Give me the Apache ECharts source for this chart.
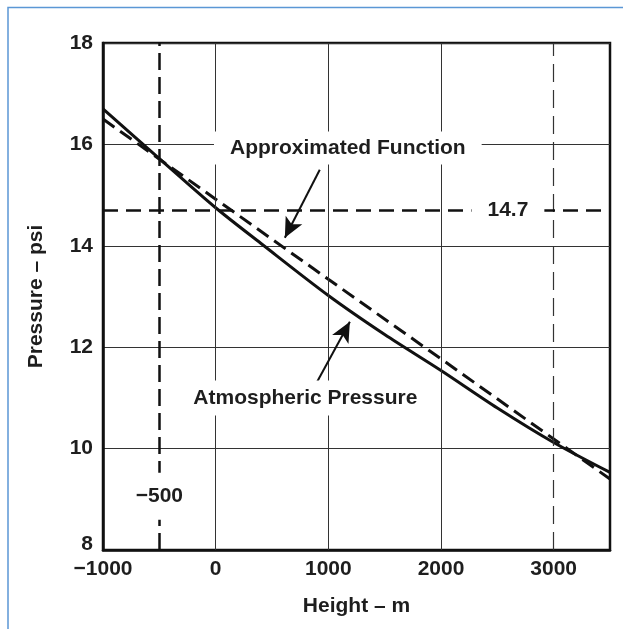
<!DOCTYPE html>
<html>
<head>
<meta charset="utf-8">
<script src="https://cdn.jsdelivr.net/npm/echarts@6/dist/echarts.min.js"></script>
<style>
html,body{margin:0;padding:0;background:#fff;}
#chart{width:623px;height:629px;}
</style>
</head>
<body>
<div id="chart"></div>
<script>
// ---- data ----
const xTicks = [-1000, 0, 1000, 2000, 3000];
const yTicks = [8, 10, 12, 14, 16, 18];
const atmHeights = [-1000, -500, 0, 400, 1000, 1500, 2000, 2500, 3000, 3500];
const atmPressure = [16.70, 15.72, 14.75, 14.05, 13.02, 12.25, 11.54, 10.80, 10.12, 9.53];
const apxHeights = [-1000, 0, 1000, 2000, 3000, 3500];
const apxPressure = [16.50, 14.92, 13.34, 11.77, 10.19, 9.40];
const refHeight = -500;
const refHeight2 = 3000;
const refPressure = 14.7;
const gridHeights = [0, 1000, 2000];
const labelNames = ['Approximated Function', 'Atmospheric Pressure', '14.7', '\u2212500'];
const labelPos = [[1173, 15.93], [796, 11.0], [2594, 14.7], [-500, 9.06]];
const arrowApx = [[924, 15.50], [614, 14.16]];
const arrowAtm = [[862, 11.16], [1191, 12.50]];

const FONT = '"Liberation Sans", Arial, Helvetica, sans-serif';
const INK = '#1e1e1e';
const FS = 21;

function fmt(v) { return v < 0 ? '\u2212' + Math.abs(v) : String(v); }

const chart = echarts.init(document.getElementById('chart'), null, {renderer: 'canvas'});

const labelPads = [[6, 16], [7, 9], [3, 16], [13, 3]];

const option = {
  animation: false,
  backgroundColor: '#fff',
  graphic: [{
    type: 'polyline',
    shape: {points: [[8, 629], [8, 7.5], [623, 7.5]]},
    style: {stroke: '#5b97d5', lineWidth: 1.5, fill: null},
    z: 100
  }],
  grid: {
    left: 103, top: 43, width: 507, height: 507,
    show: true, borderColor: '#111', borderWidth: 2.5, backgroundColor: 'transparent'
  },
  xAxis: {
    type: 'value', min: -1000, max: 3500, interval: 1000,
    axisLine: {show: true, onZero: false, lineStyle: {color: '#111', width: 2.5}},
    axisTick: {show: false},
    splitLine: {show: false},
    axisLabel: {
      margin: 9, color: INK, fontFamily: FONT, fontWeight: 'bold', fontSize: FS,
      showMaxLabel: false,
      formatter: v => xTicks.includes(v) ? fmt(v) : ''
    },
    name: 'Height \u2013 m', nameLocation: 'middle', nameGap: 46,
    nameTextStyle: {color: INK, fontFamily: FONT, fontWeight: 'bold', fontSize: FS}
  },
  yAxis: {
    type: 'value', min: 8, max: 18, interval: 2,
    axisLine: {show: true, onZero: false, lineStyle: {color: '#111', width: 2.5}},
    axisTick: {show: false},
    splitLine: {show: true, lineStyle: {color: '#333', width: 1}},
    axisLabel: {
      margin: 10, color: INK, fontFamily: FONT, fontWeight: 'bold', fontSize: FS,
      formatter: v => yTicks.includes(v) ? (v === yTicks[0] ? '{low|' + fmt(v) + '}' : fmt(v)) : '',
      rich: {
        low: {color: INK, fontFamily: FONT, fontWeight: 'bold', fontSize: FS, padding: [0, 0, 11, 0]}
      }
    },
    name: 'Pressure \u2013 psi', nameLocation: 'middle', nameGap: 56, nameRotate: 90,
    nameTextStyle: {color: INK, fontFamily: FONT, fontWeight: 'bold', fontSize: FS}
  },
  series: [
    {
      name: 'grid', type: 'line', data: [[-1000, 8]], symbol: 'none', z: 1,
      lineStyle: {opacity: 0}, silent: true,
      markLine: {
        silent: true, symbol: 'none', animation: false, label: {show: false},
        data: [
          ...gridHeights.map(h => ({xAxis: h, lineStyle: {color: '#333', width: 1, type: 'solid'}})),
          {xAxis: refHeight2, lineStyle: {color: '#333', width: 1.2, type: [18, 8]}},
          {xAxis: refHeight, lineStyle: {color: '#111', width: 2.5, type: [17, 7]}},
          {yAxis: refPressure, lineStyle: {color: '#111', width: 2.5, type: [15, 8]}}
        ]
      }
    },
    {
      name: 'Atmospheric Pressure', type: 'line', z: 3, symbol: 'none', smooth: 0.3,
      data: atmHeights.map((h, i) => [h, atmPressure[i]]),
      lineStyle: {color: '#111', width: 3}
    },
    {
      name: 'Approximated Function', type: 'line', z: 3, symbol: 'none',
      data: apxHeights.map((h, i) => [h, apxPressure[i]]),
      lineStyle: {color: '#111', width: 3, type: [14, 7]}
    },
    {
      name: 'labels', type: 'scatter', z: 5, symbolSize: 0, silent: true,
      itemStyle: {opacity: 1},
      data: labelPos.map((p, i) => ({
        value: [p[0], p[1], labelNames[i]],
        label: {padding: labelPads[i]}
      })),
      label: {
        show: true, position: 'inside', formatter: p => p.data.value[2],
        color: INK, fontFamily: FONT, fontWeight: 'bold', fontSize: FS,
        backgroundColor: '#fff', opacity: 1
      }
    },
    {
      name: 'arrows', type: 'line', data: [], z: 6, silent: true,
      markLine: {
        silent: true, symbol: ['none', 'arrow'], symbolSize: [14, 20], animation: false,
        label: {show: false},
        lineStyle: {color: '#111', width: 2, type: 'solid'},
        data: [
          [{coord: arrowApx[0]}, {coord: arrowApx[1]}],
          [{coord: arrowAtm[0]}, {coord: arrowAtm[1]}]
        ]
      }
    }
  ]
};
chart.setOption(option);
</script>
</body>
</html>
